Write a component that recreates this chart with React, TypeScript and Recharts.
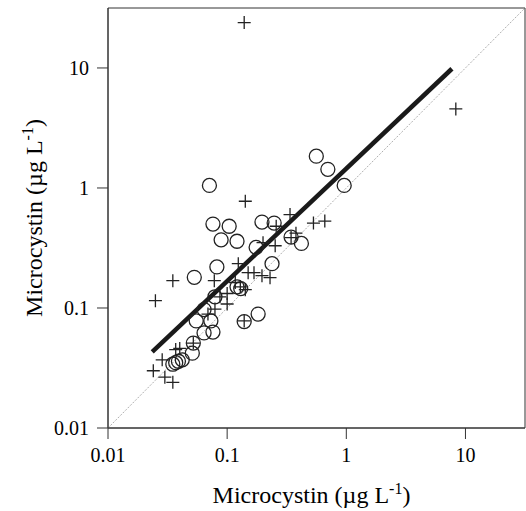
import { ScatterChart, Scatter, XAxis, YAxis, ReferenceLine, ReferenceArea } from "recharts";

// observed vs predicted microcystin, two groups
const circleX = [0.071, 0.56, 0.7, 0.96, 0.076, 0.104, 0.089, 0.121, 0.196, 0.248, 0.175, 0.344, 0.42, 0.238, 0.082, 0.053, 0.121, 0.13, 0.079, 0.064, 0.055, 0.073, 0.139, 0.182, 0.064, 0.076, 0.052, 0.051, 0.035, 0.037, 0.039, 0.042];
const circleY = [1.05, 1.84, 1.43, 1.05, 0.5, 0.48, 0.37, 0.36, 0.52, 0.51, 0.32, 0.39, 0.345, 0.234, 0.22, 0.18, 0.15, 0.145, 0.124, 0.097, 0.078, 0.078, 0.077, 0.089, 0.062, 0.063, 0.051, 0.042, 0.034, 0.035, 0.036, 0.037];

const crossX = [0.139, 8.3, 0.142, 0.337, 0.53, 0.66, 0.258, 0.378, 0.344, 0.2, 0.253, 0.124, 0.15, 0.168, 0.196, 0.229, 0.035, 0.078, 0.117, 0.129, 0.142, 0.1, 0.1, 0.079, 0.069, 0.025, 0.139, 0.087, 0.052, 0.037, 0.04, 0.0285, 0.024, 0.03, 0.035];
const crossY = [23.9, 4.56, 0.775, 0.6, 0.51, 0.53, 0.48, 0.42, 0.386, 0.35, 0.33, 0.234, 0.197, 0.197, 0.186, 0.179, 0.169, 0.169, 0.163, 0.15, 0.142, 0.132, 0.108, 0.098, 0.089, 0.115, 0.078, 0.124, 0.051, 0.045, 0.046, 0.037, 0.03, 0.0265, 0.024];

// fitted line end points
const fitX = [0.0235, 7.7];
const fitY = [0.043, 9.85];

const axisMin = 0.01;
const axisMax = 31.6;
const ticks = [0.01, 0.1, 1, 10];

const circles = circleX.map((x, i) => ({ x, y: circleY[i] }));
const crosses = crossX.map((x, i) => ({ x, y: crossY[i] }));

const FONT = "Liberation Serif, Times New Roman, serif";
const INK = "#222";

const Cross = (props: any) => {
  const { cx, cy } = props;
  return (
    <path
      d={`M${cx - 6.5},${cy}H${cx + 6.5}M${cx},${cy - 6.5}V${cy + 6.5}`}
      stroke={INK}
      strokeWidth={1.3}
      fill="none"
    />
  );
};

const Ring = (props: any) => (
  <circle cx={props.cx} cy={props.cy} r={7} fill="none" stroke={INK} strokeWidth={1.3} />
);

const TitleText = () => (
  <>
    Microcystin (µg L
    <tspan dy={-9} fontSize={16}>-1</tspan>
    <tspan dy={9}>)</tspan>
  </>
);

const XTitle = (p: any) => {
  const vb = p.viewBox;
  return (
    <text x={vb.x + vb.width / 2 - 5} y={vb.y + 75} textAnchor="middle" fontFamily={FONT} fontSize={24} fill="#000">
      <TitleText />
    </text>
  );
};

const YTitle = (p: any) => {
  const vb = p.viewBox;
  const cx = 42;
  const cy = vb.y + vb.height / 2;
  return (
    <text x={cx} y={cy} transform={`rotate(-90 ${cx} ${cy})`} textAnchor="middle" fontFamily={FONT} fontSize={24} fill="#000">
      <TitleText />
    </text>
  );
};

export default function App() {
  return (
    <div style={{ position: "absolute", left: 0, top: 0, background: "#fff" }}>
      <ScatterChart width={526} height={511} margin={{ top: 8, right: 1, left: 0, bottom: 0 }}>
        <XAxis
          type="number"
          dataKey="x"
          scale="log"
          domain={[axisMin, axisMax]}
          ticks={ticks}
          allowDataOverflow
          height={83}
          tickSize={11}
          tickMargin={9}
          stroke="#333"
          tick={{ fill: "#000", fontSize: 20, fontFamily: FONT }}
          label={{ content: XTitle }}
        />
        <YAxis
          type="number"
          dataKey="y"
          scale="log"
          domain={[axisMin, axisMax]}
          ticks={ticks}
          allowDataOverflow
          width={108}
          tickSize={11}
          tickMargin={8}
          stroke="#333"
          tick={{ fill: "#000", fontSize: 20, fontFamily: FONT }}
          label={{ content: YTitle }}
        />
        <ReferenceArea x1={axisMin} x2={axisMax} y1={axisMin} y2={axisMax} fill="none" stroke="#333" strokeWidth={1} />
        <ReferenceLine
          segment={[{ x: axisMin, y: axisMin }, { x: axisMax, y: axisMax }]}
          stroke="#999"
          strokeWidth={0.8}
          strokeDasharray="2 1.5"
        />
        <Scatter data={crosses} shape={Cross} isAnimationActive={false} />
        <Scatter data={circles} shape={Ring} isAnimationActive={false} />
        <ReferenceLine
          segment={[{ x: fitX[0], y: fitY[0] }, { x: fitX[1], y: fitY[1] }]}
          stroke="#1a1a1a"
          strokeWidth={4.5}
        />
      </ScatterChart>
    </div>
  );
}
